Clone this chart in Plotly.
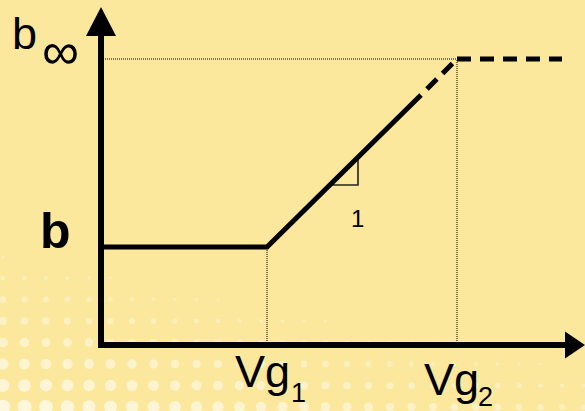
"""
Threshold sketch: b vs Vg with saturation at b_inf
Recreated with plotly
"""

import numpy as np
import plotly.graph_objs as go

# ---- values (arbitrary units, origin at axis corner) ----
vg_ticks = [1.66, 3.56]            # Vg1, Vg2
vg_labels = ['Vg', 'Vg']
vg_subs = ['1', '2']
b_low = 0.98                       # b
b_inf = 2.86                       # b infinity

solid_x = [0.0, 1.66, 3.20]
solid_y = [0.98, 0.98, 2.50]
slope_dash_x = [3.26, 3.56]
slope_dash_y = [2.56, 2.86]
plateau_x = [3.56, 4.61]
plateau_y = [2.86, 2.86]

tri_x = [2.29, 2.57, 2.57]         # small slope triangle
tri_y = [1.60, 1.60, 1.88]

x_axis_end = 4.84
y_axis_end = 3.38

BG = '#FBE89D'
FONT = 'Liberation Sans, Arial, sans-serif'


def background_texture():
    """Halftone dots in the lower left corner (background only)"""
    xs, ys, ss, cs = [], [], [], []
    for py in np.arange(407, 250, -21.5):
        for px in np.arange(3, 600, 21.5):
            t = (py - (255 + 0.2 * px)) / 156.0
            if t <= 0:
                continue
            t = min(t, 1)
            xs.append((px - 101) / 100.0)
            ys.append((345 - py) / 100.0)
            ss.append(3 + 12 * t)
            cs.append(f'rgba(255,255,255,{0.35 + 0.6 * t:.2f})')
    return go.Scatter(x=xs, y=ys, mode='markers', hoverinfo='skip',
                      marker=dict(size=ss, color=cs, line=dict(width=0)),
                      showlegend=False)


def create_plot():
    fig = go.Figure()
    fig.add_trace(background_texture())

    line_kw = dict(mode='lines', hoverinfo='skip', showlegend=False)

    # dotted guides
    fig.add_trace(go.Scatter(x=[0, vg_ticks[1]], y=[b_inf, b_inf],
                             line=dict(color='black', width=1, dash='1px,1px'), **line_kw))
    fig.add_trace(go.Scatter(x=[vg_ticks[0], vg_ticks[0]], y=[0, b_low],
                             line=dict(color='black', width=1, dash='1px,1px'), **line_kw))
    fig.add_trace(go.Scatter(x=[vg_ticks[1], vg_ticks[1]], y=[0, b_inf],
                             line=dict(color='black', width=1, dash='1px,1px'), **line_kw))

    # slope triangle
    fig.add_trace(go.Scatter(x=tri_x, y=tri_y,
                             line=dict(color='#222222', width=1.6), **line_kw))

    # main curve
    fig.add_trace(go.Scatter(x=solid_x, y=solid_y,
                             line=dict(color='black', width=5), **line_kw))
    fig.add_trace(go.Scatter(x=slope_dash_x, y=slope_dash_y,
                             line=dict(color='black', width=5, dash='14px,8px'), **line_kw))
    fig.add_trace(go.Scatter(x=plateau_x, y=plateau_y,
                             line=dict(color='black', width=5, dash='14px,9px'), **line_kw))

    # axes with arrow heads
    shapes = [
        dict(type='line', x0=-0.03, y0=0, x1=x_axis_end - 0.2, y1=0,
             line=dict(color='black', width=6)),
        dict(type='line', x0=0, y0=-0.025, x1=0, y1=y_axis_end - 0.29,
             line=dict(color='black', width=6)),
        dict(type='path', fillcolor='black', line=dict(width=0),
             path=f'M {x_axis_end} 0 L {x_axis_end - 0.2} 0.135 L {x_axis_end - 0.2} -0.135 Z'),
        dict(type='path', fillcolor='black', line=dict(width=0),
             path=f'M 0 {y_axis_end} L -0.15 {y_axis_end - 0.29} L 0.15 {y_axis_end - 0.29} Z'),
    ]

    annotations = [
        dict(x=-0.765, y=3.115, text='b', font=dict(size=45)),
        dict(x=-0.41, y=2.94, text='\u221e', font=dict(size=52)),
        dict(x=-0.455, y=1.14, text='<b>b</b>', font=dict(size=50)),
        dict(x=2.56, y=1.27, text='1', font=dict(size=24)),
    ]
    vg_left = [1.32, 3.21]
    vg_y = [-0.265, -0.345]
    sub_left = [1.88, 3.75]
    sub_y = [-0.48, -0.52]
    for i in range(2):
        annotations.append(dict(x=vg_left[i], y=vg_y[i], xanchor='left',
                                text=vg_labels[i], font=dict(size=45)))
        annotations.append(dict(x=sub_left[i], y=sub_y[i], xanchor='left',
                                text=vg_subs[i], font=dict(size=27)))
    for a in annotations:
        a.setdefault('xanchor', 'center')
        a['yanchor'] = 'middle'
        a['showarrow'] = False
        a['font'] = dict(family=FONT, color='black', **a['font'])

    fig.update_layout(
        width=585,
        height=411,
        margin=dict(l=0, r=0, t=0, b=0),
        paper_bgcolor=BG,
        plot_bgcolor=BG,
        xaxis=dict(range=[-1.01, 4.84], visible=False, fixedrange=True),
        yaxis=dict(range=[-0.66, 3.45], visible=False, fixedrange=True),
        shapes=shapes,
        annotations=annotations,
        showlegend=False,
    )
    return fig


if __name__ == "__main__":
    fig = create_plot()
    # drop the default page margin so the figure fills the window
    fig.write_html("out.html", config={'displayModeBar': False},
                   post_script="document.body.style.margin='0';")
